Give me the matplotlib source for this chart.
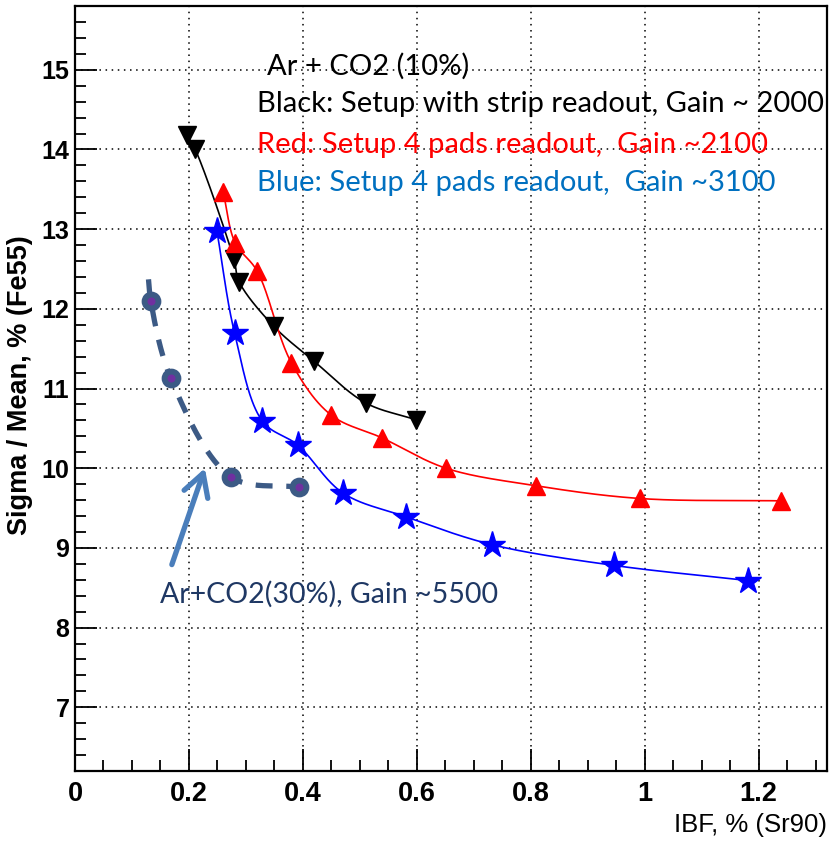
import numpy as np
import matplotlib
matplotlib.use("Agg")
import matplotlib.pyplot as plt
from matplotlib.ticker import FixedLocator, MultipleLocator

# ---------------- data ----------------
black_x = [0.196, 0.211, 0.279, 0.288, 0.349, 0.420, 0.510, 0.598]
black_y = [14.18, 14.00, 12.62, 12.34, 11.78, 11.34, 10.82, 10.61]

red_x = [0.260, 0.281, 0.320, 0.380, 0.449, 0.539, 0.651, 0.809, 0.991, 1.240]
red_y = [13.47, 12.83, 12.47, 11.32, 10.67, 10.38, 10.00, 9.78, 9.62, 9.59]

blue_x = [0.249, 0.280, 0.329, 0.391, 0.470, 0.581, 0.732, 0.946, 1.181]
blue_y = [12.98, 11.70, 10.59, 10.29, 9.69, 9.39, 9.04, 8.78, 8.59]

co2_x = [0.133, 0.168, 0.274, 0.393]
co2_y = [12.10, 11.13, 9.89, 9.76]
co2_guide_start = (0.129, 12.37)

arrow_tail = (0.170, 8.79)
arrow_tip = (0.228, 10.00)

x_ticks = [0, 0.2, 0.4, 0.6, 0.8, 1.0, 1.2]
x_ticklabels = ["0", "0.2", "0.4", "0.6", "0.8", "1", "1.2"]
y_ticks = [7, 8, 9, 10, 11, 12, 13, 14, 15]
y_ticklabels = ["7", "8", "9", "10", "11", "12", "13", "14", "15"]

XLIM = (0.0, 1.32)
YLIM = (6.2, 15.8)

W, H = 832, 843
SX, SY = 570.0, 79.7  # pixels per unit, used only to smooth curves isotropically


def smooth(xs, ys, n=40):
    P = np.column_stack([np.asarray(xs, float) * SX, np.asarray(ys, float) * SY])
    P = np.vstack([2 * P[0] - P[1], P, 2 * P[-1] - P[-2]])
    pts = []
    for i in range(len(P) - 3):
        p0, p1, p2, p3 = P[i:i + 4]
        t0 = 0.0
        t1 = t0 + max(np.linalg.norm(p1 - p0), 1e-6) ** 0.5
        t2 = t1 + max(np.linalg.norm(p2 - p1), 1e-6) ** 0.5
        t3 = t2 + max(np.linalg.norm(p3 - p2), 1e-6) ** 0.5
        t = np.linspace(t1, t2, n)[:, None]
        A1 = (t1 - t) / (t1 - t0) * p0 + (t - t0) / (t1 - t0) * p1
        A2 = (t2 - t) / (t2 - t1) * p1 + (t - t1) / (t2 - t1) * p2
        A3 = (t3 - t) / (t3 - t2) * p2 + (t - t2) / (t3 - t2) * p3
        B1 = (t2 - t) / (t2 - t0) * A1 + (t - t0) / (t2 - t0) * A2
        B2 = (t3 - t) / (t3 - t1) * A2 + (t - t1) / (t3 - t1) * A3
        C = (t2 - t) / (t2 - t1) * B1 + (t - t1) / (t2 - t1) * B2
        pts.append(C)
    C = np.vstack(pts)
    return C[:, 0] / SX, C[:, 1] / SY


fig = plt.figure(figsize=(W / 100, H / 100), dpi=100)
ax = fig.add_axes([75 / W, 72 / H, 752 / W, 765 / H])
ax.set_xlim(*XLIM)
ax.set_ylim(*YLIM)

num_family = ["Liberation Sans", "DejaVu Sans"]

ax.xaxis.set_major_locator(FixedLocator(x_ticks))
ax.xaxis.set_minor_locator(MultipleLocator(0.05))
ax.yaxis.set_major_locator(FixedLocator(y_ticks))
ax.yaxis.set_minor_locator(MultipleLocator(0.2))
ax.set_xticklabels(x_ticklabels, family=num_family, weight="bold", size=19.5)
ax.set_yticklabels(y_ticklabels, family=num_family, weight="bold", size=18)
ax.tick_params(which="both", direction="in", top=False, right=False, width=1.3, color="black")
ax.tick_params(which="major", length=16)
ax.tick_params(which="minor", length=8)
ax.tick_params(axis="y", which="major", pad=4)
ax.tick_params(axis="x", which="major", pad=7)
for s in ax.spines.values():
    s.set_linewidth(1.6)

ax.grid(True, which="major", color="black", linestyle=(0, (1, 3)), linewidth=1.1)
ax.set_axisbelow(True)

# smooth curves
bx, by = smooth(black_x, black_y)
ax.plot(bx, by, color="black", lw=1.2, zorder=3)
rx, ry = smooth(red_x, red_y)
ax.plot(rx, ry, color="#FF0000", lw=1.2, zorder=3)
ux, uy = smooth(blue_x, blue_y)
ax.plot(ux, uy, color="#0000FF", lw=1.2, zorder=3)

ax.plot(black_x, black_y, ls="none", marker="v", ms=13.5, color="black", zorder=5)
ax.plot(red_x, red_y, ls="none", marker="^", ms=13.5, color="#FF0000", zorder=5)
ax.plot(blue_x, blue_y, ls="none", marker="*", ms=20, color="#0000FF", zorder=5)

# Ar+CO2(30%) series: hand-drawn dashed guide through the points
gx, gy = smooth([co2_guide_start[0]] + co2_x, [co2_guide_start[1]] + co2_y)
ax.plot(gx, gy, color="#3C5A85", lw=3.8, dashes=(3.2, 2.6), zorder=4)
ax.plot(co2_x, co2_y, ls="none", marker="o", ms=10, mfc="#7030A0", mec="#3C5A85",
        mew=4.2, zorder=6)

ax.annotate("", xy=arrow_tip, xytext=arrow_tail,
            arrowprops=dict(arrowstyle="->,head_length=0.8,head_width=0.45",
                            color="#4A7EBB", lw=3.8, mutation_scale=20,
                            shrinkA=0, shrinkB=0), zorder=6)

# labels
ax.set_xlabel("IBF, % (Sr90)", family=num_family, size=18.5, ha="right", va="center")
ax.xaxis.set_label_coords(1.0, (771 - 825) / 765)
ax.set_ylabel("Sigma / Mean, % (Fe55)", family=num_family,
              weight="bold", size=19.5, ha="center", va="center")
ax.yaxis.set_label_coords((20 - 75) / 752, (771 - 385) / 765)

txt_font = ["Lato", "DejaVu Sans"]


def ptext(px, py, s, color, size=21):
    fig.text(px / W, 1 - py / H, s, color=color, family=txt_font, size=size,
             ha="left", va="center")


ptext(267, 66, "Ar + CO2 (10%)", "black")
ptext(257, 104, "Black: Setup with strip readout, Gain ~ 2000", "black")
ptext(257, 145, "Red: Setup 4 pads readout,  Gain ~2100", "#FF0000")
ptext(257, 183, "Blue: Setup 4 pads readout,  Gain ~3100", "#0070C0")
ptext(160, 594, "Ar+CO2(30%), Gain ~5500", "#1F3864", size=20.5)

fig.savefig("out.png", dpi=100)
